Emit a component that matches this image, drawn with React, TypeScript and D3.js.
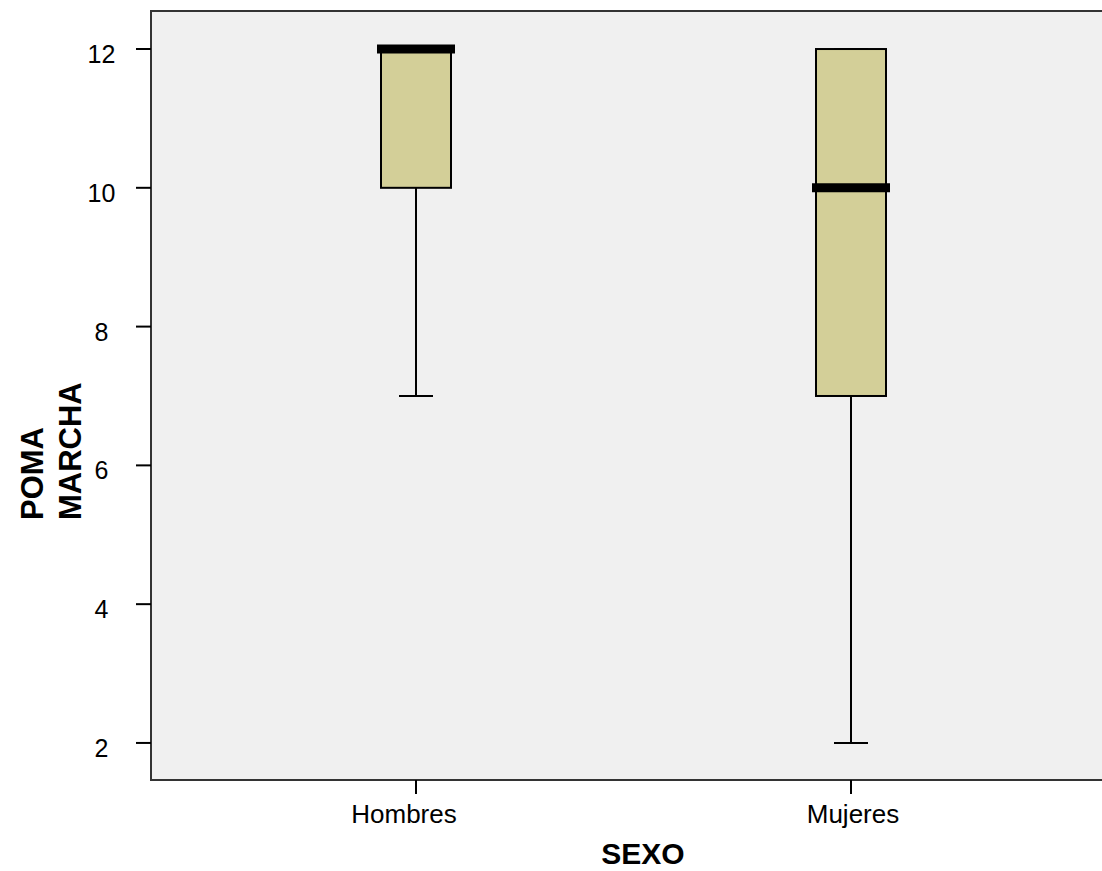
import React from "react";
import * as d3 from "d3";

const categories = ["Hombres", "Mujeres"];
const whiskerLow = [7, 2];
const q1 = [10, 7];
const median = [12, 10];
const q3 = [12, 12];
const whiskerHigh = [12, 12];
const yTicks = [2, 4, 6, 8, 10, 12];

export default function App() {
  const W = 1102, H = 871;
  const left = 151, right = 1102, top = 11, bottom = 780;
  const y = d3.scaleLinear().domain([1.466, 12.548]).range([bottom, top]);
  const x = d3.scalePoint<string>().domain(categories).range([416, 851]);
  const labelShift = [-12, 2];
  const boxW = 70, medW = 78, capW = 34;
  const font = "Liberation Sans, Arial, sans-serif";
  return (
    <svg width={W} height={H} style={{ position: "absolute", left: 0, top: 0 }}>
      <rect x={0} y={0} width={W} height={H} fill="#fff" />
      <rect x={left} y={top} width={right - left + 5} height={bottom - top} fill="#f0f0f0" stroke="#333" strokeWidth={2} />
      {yTicks.map((t) => (
        <g key={t}>
          <line x1={136} x2={left} y1={y(t)} y2={y(t)} stroke="#000" strokeWidth={2} />
          <text x={101.5} y={y(t) + 14} textAnchor="middle" fontSize={25} fontFamily={font}>{t}</text>
        </g>
      ))}
      {categories.map((c, i) => {
        const cx = x(c)!;
        return (
          <g key={c}>
            <line x1={cx} x2={cx} y1={bottom} y2={bottom + 14} stroke="#000" strokeWidth={2} />
            <text x={cx + labelShift[i]} y={823} textAnchor="middle" fontSize={26} fontFamily={font}>{c}</text>
            <line x1={cx} x2={cx} y1={y(whiskerLow[i])} y2={y(q1[i])} stroke="#000" strokeWidth={2} />
            <line x1={cx} x2={cx} y1={y(whiskerHigh[i])} y2={y(q3[i])} stroke="#000" strokeWidth={2} />
            <line x1={cx - capW / 2} x2={cx + capW / 2} y1={y(whiskerLow[i])} y2={y(whiskerLow[i])} stroke="#000" strokeWidth={2} />
            <line x1={cx - capW / 2} x2={cx + capW / 2} y1={y(whiskerHigh[i])} y2={y(whiskerHigh[i])} stroke="#000" strokeWidth={2} />
            <rect x={cx - boxW / 2} y={y(q3[i])} width={boxW} height={y(q1[i]) - y(q3[i])} fill="#d3cf98" stroke="#000" strokeWidth={2} />
            <line x1={cx - medW / 2} x2={cx + medW / 2} y1={y(median[i])} y2={y(median[i])} stroke="#000" strokeWidth={9} />
          </g>
        );
      })}
      <text x={643} y={864} textAnchor="middle" fontSize={30} fontWeight="bold" fontFamily={font}>SEXO</text>
      <text transform="translate(43,520) rotate(-90)" textAnchor="start" fontSize={31} fontWeight="bold" fontFamily={font}>POMA</text>
      <text transform="translate(81,520) rotate(-90)" textAnchor="start" fontSize={31} fontWeight="bold" fontFamily={font}>MARCHA</text>
    </svg>
  );
}
